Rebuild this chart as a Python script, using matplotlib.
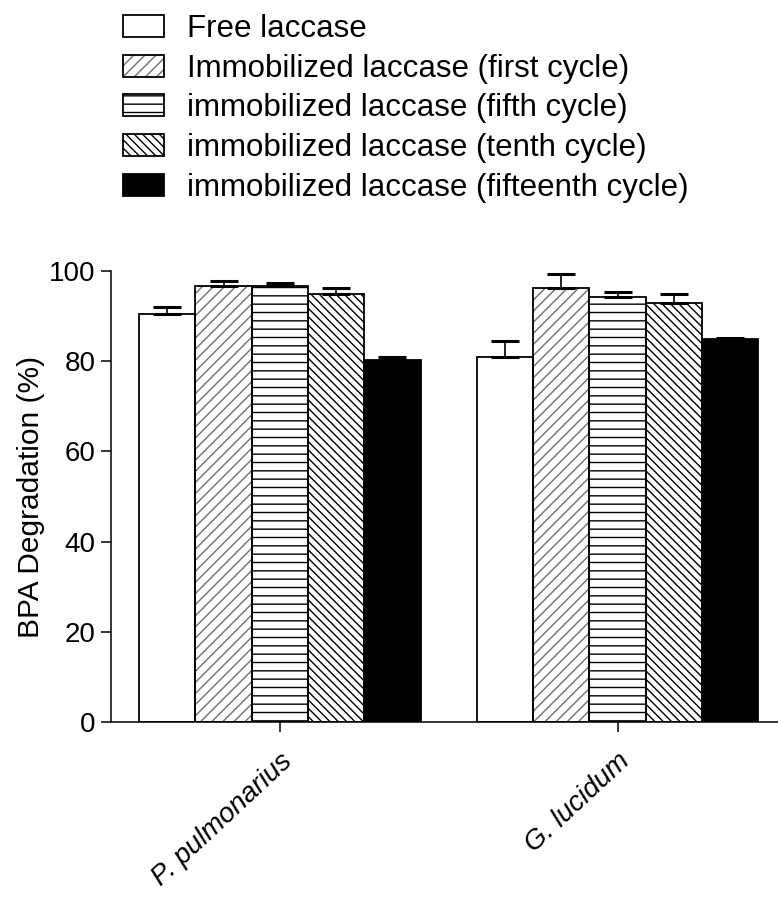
import numpy as np
import matplotlib
matplotlib.use("Agg")
from matplotlib import pyplot as plt
from matplotlib.legend_handler import HandlerTuple

plt.rcParams['font.family'] = ['Liberation Sans', 'DejaVu Sans']
plt.rcParams['hatch.linewidth'] = 1.0

species = ['P. pulmonarius', 'G. lucidum']
series = ['Free laccase',
          'Immobilized laccase (first cycle)',
          'immobilized laccase (fifth cycle)',
          'immobilized laccase (tenth cycle)',
          'immobilized laccase (fifteenth cycle)']
# mean degradation (%) per series, [P. pulmonarius, G. lucidum]
free = [90.4, 81.0]
first = [96.7, 96.2]
fifth = [96.7, 94.3]
tenth = [95.0, 92.9]
fifteenth = [80.2, 85.0]
# upper error (%)
free_err = [1.6, 3.4]
first_err = [1.1, 3.1]
fifth_err = [0.7, 1.1]
tenth_err = [1.2, 2.0]
fifteenth_err = [0.7, 0.2]

means = [free, first, fifth, tenth, fifteenth]
errs = [free_err, first_err, fifth_err, tenth_err, fifteenth_err]
hatches = ['', '///', '--', '\\\\\\\\', '']
fills = ['white', 'white', 'white', 'white', 'black']
hatch_cols = ['black', '#707070', 'black', 'black', 'black']

fig = plt.figure(figsize=(7.78, 8.97), dpi=100)
ax = fig.add_axes([111 / 778, 1 - 722 / 897, 1 - 111 / 778, (722 - 271) / 897])

centers = np.array([0, 6])
width = 1.0
handles = []
for i in range(5):
    x = centers + (i - 2) * width
    hb = ax.bar(x, means[i], width, color=fills[i], edgecolor=hatch_cols[i],
                hatch=hatches[i], linewidth=0, zorder=2)
    ob = ax.bar(x, means[i], width, color='none', edgecolor='black',
                linewidth=1.3, zorder=3)
    ax.errorbar(x, means[i], yerr=[np.zeros(2), errs[i]], fmt='none',
                ecolor='black', elinewidth=1.2, capsize=10, capthick=2.2,
                zorder=4)
    handles.append((hb[0], ob[0]))

ax.set_xlim(-3.0, 8.85)
ax.set_ylim(0, 100)
ax.set_yticks([0, 20, 40, 60, 80, 100])
ax.set_xticks(centers)
ax.set_xticklabels(species, rotation=43, ha='right', va='top',
                   rotation_mode='anchor', fontstyle='italic', fontsize=20)
ax.tick_params(axis='both', direction='out', length=7, width=1.1,
               labelsize=20, pad=4)
ax.tick_params(axis='x', pad=12)
for s in ['top', 'right']:
    ax.spines[s].set_visible(False)
for s in ['left', 'bottom']:
    ax.spines[s].set_linewidth(1.1)
ax.set_ylabel('BPA Degradation (%)', fontsize=21.5, labelpad=3)

fig.legend(handles, series, handler_map={tuple: HandlerTuple(ndivide=1)},
           loc='upper left', bbox_to_anchor=(123 / 778, 1 - 14 / 897),
           frameon=False, fontsize=22.5, borderpad=0, borderaxespad=0,
           handlelength=1.32, handleheight=0.7, handletextpad=0.72,
           labelspacing=0.31)

fig.savefig('out.png', dpi=100)
